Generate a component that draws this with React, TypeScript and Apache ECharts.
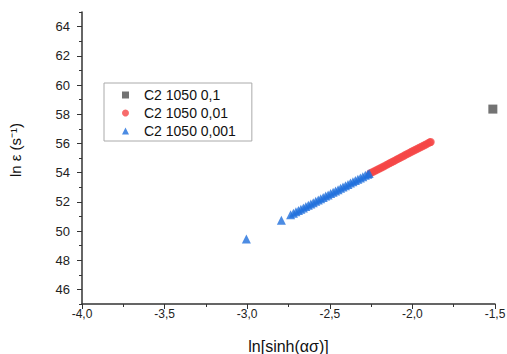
import React, { useEffect, useRef } from "react";
import * as echarts from "echarts";

const seriesNames = ["C2 1050 0,1", "C2 1050 0,01", "C2 1050 0,001"];

const grayX = [-1.513];
const grayY = [58.35];

const redX = [
  -2.255, -2.243, -2.231, -2.219, -2.207, -2.195, -2.183, -2.171, -2.159, -2.147,
  -2.135, -2.123, -2.111, -2.099, -2.087, -2.075, -2.063, -2.051, -2.039, -2.027,
  -2.015, -2.003, -1.991, -1.979, -1.967, -1.955, -1.943, -1.931, -1.919, -1.907,
  -1.895, -1.889,
];
const redY = [
  53.95, 54.02, 54.09, 54.16, 54.23, 54.3, 54.37, 54.44, 54.51, 54.58,
  54.66, 54.73, 54.8, 54.87, 54.94, 55.01, 55.08, 55.16, 55.23, 55.3,
  55.37, 55.44, 55.51, 55.58, 55.65, 55.72, 55.79, 55.86, 55.93, 56.0,
  56.07, 56.1,
];

const blueX = [
  -3.005, -2.793, -2.737, -2.72, -2.705, -2.69, -2.675, -2.66, -2.645, -2.63,
  -2.615, -2.6, -2.585, -2.57, -2.555, -2.54, -2.525, -2.51, -2.495, -2.48,
  -2.465, -2.45, -2.435, -2.42, -2.405, -2.39, -2.375, -2.36, -2.345, -2.33,
  -2.315, -2.3, -2.285, -2.27, -2.262,
];
const blueY = [
  49.45, 50.73, 51.12, 51.22, 51.31, 51.4, 51.49, 51.58, 51.67, 51.76,
  51.85, 51.94, 52.03, 52.12, 52.21, 52.3, 52.39, 52.47, 52.56, 52.65,
  52.74, 52.83, 52.92, 53.01, 53.1, 53.19, 53.28, 53.37, 53.46, 53.54,
  53.63, 53.72, 53.81, 53.89, 53.94,
];

const yMajorTicks = [46, 48, 50, 52, 54, 56, 58, 60, 62, 64];
const yMinorTicks = [45, 47, 49, 51, 53, 55, 57, 59, 61, 63, 65];

const FONT = "'Liberation Sans', Arial, sans-serif";
const AXIS_COLOR = "#333";

function pairs(xs: number[], ys: number[]) {
  return xs.map((x, i) => [x, ys[i]]);
}

export default function App() {
  const ref = useRef<HTMLDivElement>(null);

  useEffect(() => {
    document.body.style.margin = "0";
    if (!ref.current) return;
    const chart = echarts.init(ref.current, undefined, { renderer: "svg" });
    chart.setOption({
      animation: false,
      backgroundColor: "#fff",
      textStyle: { fontFamily: FONT },
      grid: { left: 82, right: 12, top: 12, bottom: 50, containLabel: false, outerBoundsMode: "none" },
      legend: {
        orient: "vertical",
        left: 104,
        top: 83,
        padding: [5, 16, 3, 18],
        itemWidth: 7,
        itemHeight: 7,
        itemGap: 4,
        borderColor: "#aaa",
        borderWidth: 1,
        textStyle: { fontSize: 14, color: "#111", fontFamily: FONT, padding: [0, 0, 0, 10] },
        data: seriesNames,
      },
      xAxis: {
        type: "value",
        min: -4,
        max: -1.5,
        interval: 0.5,
        name: "ln[sinh(ασ)]",
        nameLocation: "middle",
        nameGap: 34,
        nameTextStyle: { fontSize: 16, color: "#111", fontFamily: FONT },
        axisLine: { lineStyle: { color: AXIS_COLOR, width: 1.5 } },
        axisTick: { show: true, length: 5, lineStyle: { color: AXIS_COLOR } },
        minorTick: { show: true, splitNumber: 2, length: 3, lineStyle: { color: AXIS_COLOR } },
        splitLine: { show: false },
        minorSplitLine: { show: false },
        axisLabel: {
          fontSize: 12,
          color: "#222",
          margin: 4,
          formatter: (v: number) => v.toFixed(1).replace(".", ","),
        },
      },
      yAxis: [
        {
          type: "value",
          min: 45,
          max: 65,
          interval: 1,
          name: "ln ε (s⁻¹)",
          nameLocation: "middle",
          nameGap: 59,
          nameRotate: 90,
          nameTextStyle: { fontSize: 15, color: "#111", fontFamily: FONT, padding: [0, 0, 0, 16] },
          axisLine: { show: true, lineStyle: { color: AXIS_COLOR, width: 1.5 } },
          axisTick: { show: true, length: 5, customValues: yMajorTicks, lineStyle: { color: AXIS_COLOR } },
          splitLine: { show: false },
          axisLabel: {
            fontSize: 13,
            color: "#222",
            margin: 12,
            customValues: yMajorTicks,
            formatter: (v: number) => String(v),
          },
        },
        {
          type: "value",
          min: 45,
          max: 65,
          interval: 1,
          position: "left",
          axisLine: { show: false },
          axisTick: { show: true, length: 3, customValues: yMinorTicks, lineStyle: { color: AXIS_COLOR } },
          axisLabel: { show: false },
          splitLine: { show: false },
        },
      ],
      series: [
        {
          name: seriesNames[0],
          type: "scatter",
          symbol: "rect",
          symbolSize: 9,
          itemStyle: { color: "#505050" },
          data: pairs(grayX, grayY),
        },
        {
          name: seriesNames[1],
          type: "scatter",
          symbol: "circle",
          symbolSize: 8,
          itemStyle: { color: "#f54646" },
          data: pairs(redX, redY),
        },
        {
          name: seriesNames[2],
          type: "scatter",
          symbol: "triangle",
          symbolSize: 9,
          itemStyle: { color: "#1f6fdc" },
          data: pairs(blueX, blueY),
        },
      ],
    });
    return () => chart.dispose();
  }, []);

  return <div ref={ref} style={{ width: 507, height: 354 }} />;
}
